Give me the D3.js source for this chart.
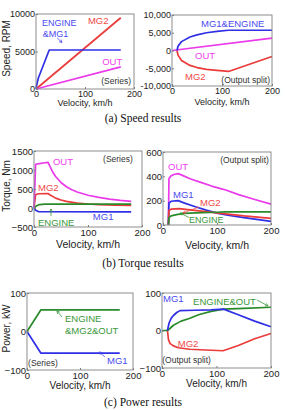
<!DOCTYPE html>
<html>
<head>
<meta charset="utf-8">
<script src="https://cdn.jsdelivr.net/npm/d3@7"></script>
<style>
  body { margin: 0; background: #fff; }
  svg { display: block; }
</style>
</head>
<body>
<svg id="fig"></svg>
<script>
// shared velocity axis, km/h
const velTicks = [0, 100, 200];

// (a) speed, rpm  -- [velocity, value]
const speedTicksSeries = [0, 5000, 10000];
const speedTicksSplit = [-10000, -5000, 0, 5000, 10000];
const speedSerMg2 = [[0, 0], [173, 9500]];
const speedSerOut = [[0, 0], [173, 2950]];
const speedSerEngMg1 = [[0, 0], [2, 700], [5, 1500], [27, 5200], [173, 5200]];
const speedSplitOut = [[0, 0], [200, 3500]];
const speedSplitMg1Eng = [[10, 0], [12, 1200], [19, 2500], [36, 3800], [50, 4400], [69, 5000], [90, 5400], [113, 5700], [200, 5700]];
const speedSplitMg2 = [[10, 0], [12, -1300], [19, -2800], [36, -4200], [50, -4800], [69, -5300], [90, -5600], [113, -5900], [200, -1700]];

// (b) torque, Nm
const torqTicksSeries = [-500, 0, 500, 1000, 1500];
const torqTicksSplit = [0, 200, 400, 600];
const torqSerOut = [[0, 0], [3, 1150], [10, 1170], [20, 1190], [26, 1200], [30, 1080], [35, 940], [40, 830], [50, 670], [60, 560], [70, 480], [80, 420], [100, 335], [120, 280], [140, 235], [160, 200], [180, 175]];
const torqSerMg2 = [[0, 0], [3, 350], [8, 375], [26, 380], [30, 340], [40, 260], [50, 210], [60, 175], [80, 130], [100, 105], [120, 90], [150, 78], [180, 70]];
const torqSerEngine = [[0, 0], [5, 60], [10, 90], [20, 100], [180, 100]];
const torqSerMg1 = [[0, 0], [3, -60], [8, -95], [180, -100]];
const torqSplitOut = [[10, 0], [11, 380], [14, 400], [20, 415], [28, 422], [35, 410], [50, 380], [70, 350], [90, 320], [110, 295], [115, 290], [140, 250], [170, 210], [200, 172]];
const torqSplitMg1 = [[10, 0], [11, 180], [15, 195], [28, 200], [40, 180], [60, 150], [80, 122], [100, 98], [120, 80], [150, 60], [200, 30]];
const torqSplitMg2 = [[10, 0], [11, 120], [15, 130], [30, 135], [50, 125], [80, 110], [100, 100], [120, 90], [150, 75], [200, 55]];
const torqSplitEngine = [[10, 0], [11, 60], [15, 75], [25, 85], [40, 95], [60, 100], [100, 105], [115, 108], [200, 108]];

// (c) power, kW
const powTicks = [-100, 0, 100];
const powSerEngMg2Out = [[0, 0], [26, 56], [175, 56]];
const powSerMg1 = [[0, 0], [26, -56], [175, -56]];
const powSplitMg1 = [[10, 0], [13, 20], [17, 33], [21, 40], [27, 48], [33, 53], [60, 54], [90, 55], [113, 57], [140, 42], [170, 25], [200, 10]];
const powSplitEngOut = [[0, 0], [10, 0], [15, 6], [21, 14], [35, 25], [50, 32], [67, 42], [90, 51], [113, 57], [150, 59], [200, 62]];
const powSplitMg2 = [[10, 0], [12, -25], [15, -35], [21, -41], [30, -46], [51, -50], [80, -52], [112, -54], [140, -40], [170, -22], [200, -8]];

const W = 285, H = 410;
const BLUE = '#2f2fe6', RED = '#ea3a3a', MAG = '#ea3aea', GREEN = '#2a8a2a';
const BLUE_T = '#4a4af0', RED_T = '#f04848', MAG_T = '#f040f0', GREEN_T = '#3a983a';
const SANS = '"Liberation Sans", Arial, sans-serif';

const svg = d3.select('#fig').attr('width', W).attr('height', H);
svg.append('rect').attr('width', W).attr('height', H).attr('fill', '#fff');

const plainFmt = d3.format('d');
const commaFmt = d => d3.format(',')(d).replace('\u2212', '-');

const panels = [
  { // (a) series
    left: 36, right: 134, top: 14, bottom: 89, yDomain: [0, 10000], yTicks: speedTicksSeries, fmt: plainFmt,
    ylabel: 'Speed, RPM', xlabelY: 103, tickFs: 9, xlabFs: 9,
    series: [[speedSerMg2, RED], [speedSerOut, MAG], [speedSerEngMg1, BLUE]],
    labels: [['ENGINE', 12, 8800, BLUE_T, 'start', 9], ['&MG1', 14, 7350, BLUE_T, 'start', 9], ['MG2', 106, 9070, RED_T],
             ['OUT', 135, 3600, MAG_T], ['(Series)', 194, 1070, '#333', 'end', 8.5]],
    arrows: [[43, 6830, 53, 6200, BLUE_T]]
  },
  { // (a) output split
    left: 172, right: 272, top: 15, bottom: 86, yDomain: [-10000, 10000], yTicks: speedTicksSplit, fmt: commaFmt,
    xlabelY: 102, tickFs: 9, xlabFs: 9,
    series: [[speedSplitOut, MAG], [speedSplitMg2, RED], [speedSplitMg1Eng, BLUE]],
    labels: [['MG1&ENGINE', 58, 7460, BLUE_T], ['OUT', 46, -1550, MAG_T], ['MG2', 26, -7460, RED_T],
             ['(Output split)', 196, -8310, '#333', 'end', 8.5]],
    arrows: []
  },
  { // (b) series
    left: 34, right: 142, top: 151, bottom: 227, yDomain: [-500, 1500], yTicks: torqTicksSeries, fmt: plainFmt,
    ylabel: 'Torque, Nm', xlabelY: 244, tickFs: 9.5, xlabFs: 10.5,
    series: [[torqSerMg1, BLUE], [torqSerMg2, RED], [torqSerEngine, GREEN], [torqSerOut, MAG]],
    labels: [['OUT', 35, 1210, MAG_T], ['MG2', 7.4, 526, RED_T], ['ENGINE', 7.4, -395, GREEN_T],
             ['MG1', 109, -237, BLUE_T], ['(Series)', 183, 1290, '#333', 'end', 8.5]],
    arrows: [[31.5, -210, 31.5, -26, GREEN_T]]
  },
  { // (b) output split
    left: 163, right: 271, top: 152, bottom: 225, yDomain: [0, 600], yTicks: torqTicksSplit, fmt: plainFmt,
    xlabelY: 245, tickFs: 9.5, xlabFs: 10.5,
    series: [[torqSplitOut, MAG], [torqSplitMg1, BLUE], [torqSplitMg2, RED], [torqSplitEngine, GREEN]],
    labels: [['OUT', 9.3, 477, MAG_T], ['MG1', 18.5, 247, BLUE_T], ['MG2', 68.5, 181, RED_T],
             ['ENGINE', 48, 40, GREEN_T, 'start', 9], ['(Output split)', 196, 534, '#333', 'end', 8.5]],
    arrows: [[66.7, 148, 37, 99, RED_T], [48, 62, 31.5, 99, GREEN_T]]
  },
  { // (c) series
    left: 27, right: 133, top: 293, bottom: 370, yDomain: [-100, 100], yTicks: powTicks, fmt: plainFmt,
    ylabel: 'Power, kW', xlabelY: 385, tickFs: 9.5, xlabFs: 10,
    series: [[powSerMg1, BLUE], [powSerEngMg2Out, GREEN]],
    labels: [['ENGINE', 71.7, 32.5, GREEN_T], ['&MG2&OUT', 71.7, 1.3, GREEN_T], ['MG1', 151, -76.6, BLUE_T],
             ['(Series)', 2, -81.8, '#333', 'start', 8.5]],
    arrows: [[66, 37.7, 56.6, 53.2, GREEN_T], [147, -66, 136, -53.2, BLUE_T]]
  },
  { // (c) output split
    left: 162, right: 271, top: 293, bottom: 368, yDomain: [-100, 100], yTicks: powTicks, fmt: plainFmt,
    xlabelY: 383, tickFs: 9.5, xlabFs: 10,
    series: [[powSplitMg2, RED], [powSplitEngOut, GREEN], [powSplitMg1, BLUE]],
    labels: [['MG1', 1.8, 84, BLUE_T], ['ENGINE&OUT', 57, 76, GREEN_T], ['MG2', 29, -35, RED_T],
             ['(Output split)', 0.5, -80, '#333', 'start', 8.5]],
    arrows: [[174, 81.5, 194.5, 65.6, GREEN_T]]
  }
];

function arrow(g, x1, y1, x2, y2, color) {
  let ang = Math.atan2(y2 - y1, x2 - x1);
  let hl = 3;
  g.append('line').attr('x1', x1).attr('y1', y1).attr('x2', x2).attr('y2', y2)
    .attr('stroke', color).attr('stroke-width', 0.8);
  [0.5, -0.5].forEach(da => {
    g.append('line').attr('x1', x2).attr('y1', y2)
      .attr('x2', x2 - hl * Math.cos(ang + da)).attr('y2', y2 - hl * Math.sin(ang + da))
      .attr('stroke', color).attr('stroke-width', 0.8);
  });
}

function drawPanel(p) {
  let g = svg.append('g');
  let x = d3.scaleLinear().domain([0, 200]).range([p.left, p.right]);
  let y = d3.scaleLinear().domain(p.yDomain).range([p.bottom, p.top]);
  let line = d3.line().x(d => x(d[0])).y(d => y(d[1]));

  p.series.forEach(s => {
    g.append('path').datum(s[0]).attr('d', line)
      .attr('fill', 'none').attr('stroke', s[1]).attr('stroke-width', 1.7)
      .attr('stroke-linejoin', 'round');
  });

  g.append('rect')
    .attr('x', p.left).attr('y', p.top)
    .attr('width', p.right - p.left).attr('height', p.bottom - p.top)
    .attr('fill', 'none').attr('stroke', '#808080').attr('stroke-width', 0.9);

  let xAxis = d3.axisBottom(x).tickValues(velTicks).tickSize(-2).tickPadding(2).tickFormat(plainFmt);
  let yAxis = d3.axisLeft(y).tickValues(p.yTicks).tickSize(-2).tickPadding(1).tickFormat(p.fmt);

  [[xAxis, `translate(0,${p.bottom})`], [yAxis, `translate(${p.left},0)`]].forEach(a => {
    let ax = g.append('g').attr('transform', a[1]).call(a[0]);
    ax.select('.domain').remove();
    ax.selectAll('line').attr('stroke', '#808080');
    ax.selectAll('text').attr('fill', '#222').style('font-family', SANS).style('font-size', p.tickFs + 'px');
  });

  // axis titles
  g.append('text')
    .attr('x', (p.left + p.right) / 2).attr('y', p.xlabelY)
    .attr('text-anchor', 'middle').attr('dy', '0.35em')
    .style('font-family', SANS).style('font-size', p.xlabFs + 'px').attr('fill', '#222')
    .text('Velocity, km/h');
  if (p.ylabel) {
    g.append('text')
      .attr('transform', `translate(6,${(p.top + p.bottom) / 2 - 3}) rotate(-90)`)
      .attr('text-anchor', 'middle').attr('dy', '0.35em')
      .style('font-family', SANS).style('font-size', '10px').attr('fill', '#222')
      .text(p.ylabel);
  }

  p.labels.forEach(l => {
    g.append('text')
      .attr('x', x(l[1])).attr('y', y(l[2]))
      .attr('dy', '0.35em').attr('text-anchor', l[4] || 'start')
      .style('font-family', SANS).style('font-size', (l[5] || 9.5) + 'px')
      .attr('fill', l[3])
      .text(l[0]);
  });
  p.arrows.forEach(a => arrow(g, x(a[0]), y(a[1]), x(a[2]), y(a[3]), a[4]));
}

panels.forEach(drawPanel);

// captions
[['(a) Speed results', 118], ['(b) Torque results', 263], ['(c) Power results', 402]].forEach(c => {
  svg.append('text')
    .attr('x', 143).attr('y', c[1]).attr('dy', '0.35em')
    .attr('text-anchor', 'middle')
    .style('font-family', '"Liberation Serif", "Times New Roman", serif')
    .style('font-size', '11.5px').attr('fill', '#111')
    .text(c[0]);
});
</script>
</body>
</html>
